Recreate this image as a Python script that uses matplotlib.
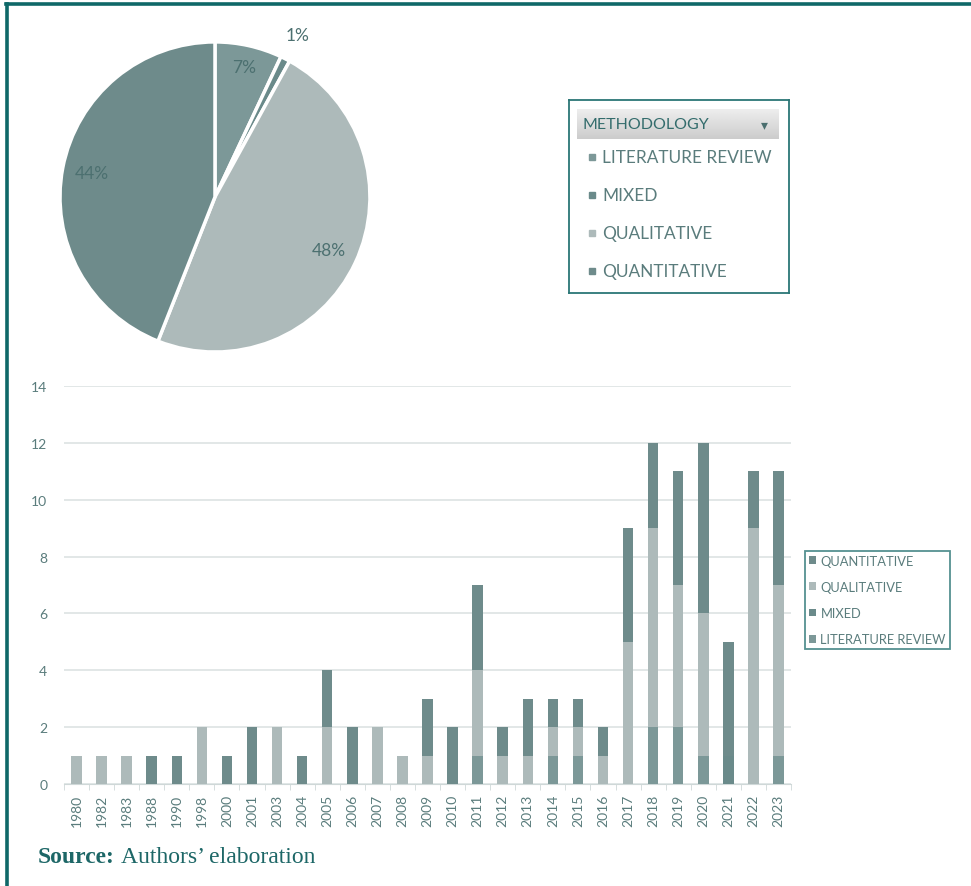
import numpy as np
import matplotlib
matplotlib.use("Agg")
import matplotlib.pyplot as plt
from matplotlib.patches import Rectangle
from matplotlib.lines import Line2D

plt.rcParams['font.family'] = ['Lato', 'DejaVu Sans']

# ---- data ----
years = ['1980', '1982', '1983', '1988', '1990', '1998', '2000', '2001', '2003', '2004',
         '2005', '2006', '2007', '2008', '2009', '2010', '2011', '2012', '2013', '2014',
         '2015', '2016', '2017', '2018', '2019', '2020', '2021', '2022', '2023']
lit_review = [0, 0, 0, 0, 0, 0, 0, 0, 0, 0, 0, 0, 0, 0, 0, 0, 1, 0, 0, 1, 1, 0, 0, 2, 2, 1, 0, 0, 1]
mixed      = [0, 0, 0, 0, 0, 0, 0, 0, 0, 0, 0, 0, 0, 0, 0, 0, 0, 0, 0, 0, 0, 0, 0, 0, 0, 0, 1, 0, 0]
qualitative = [1, 1, 1, 0, 0, 2, 0, 0, 2, 0, 2, 0, 2, 1, 1, 0, 3, 1, 1, 1, 1, 1, 5, 7, 5, 5, 0, 9, 6]
quantitative = [0, 0, 0, 1, 1, 0, 1, 2, 0, 1, 2, 2, 0, 0, 2, 2, 3, 1, 2, 1, 1, 1, 4, 3, 4, 6, 4, 2, 4]

pie_labels = ['LITERATURE REVIEW', 'MIXED', 'QUALITATIVE', 'QUANTITATIVE']
pie_share = [7, 1, 48, 44]

c_lit = '#7c9898'
c_mix = '#6a8a8a'
c_qual = '#adbaba'
c_quant = '#6e8b8b'
colors = [c_lit, c_mix, c_qual, c_quant]
teal = '#0f6868'
txt = '#5a7c7c'

fig = plt.figure(figsize=(9.71, 8.87), dpi=100)

# frame lines (top & left)
fig.add_artist(Line2D([0.0065, 1.0], [0.9944, 0.9944], color=teal, lw=2.6, transform=fig.transFigure))
fig.add_artist(Line2D([0.0075, 0.0075], [0.0, 0.9944], color=teal, lw=2.6, transform=fig.transFigure))

# ---- pie ----
axp = fig.add_axes([0.2214 - 0.1596, 0.7768 - 0.1748, 0.3192, 0.3496])
wedges, texts, autotexts = axp.pie(pie_share, colors=colors, startangle=90, counterclock=False,
                                   autopct='%d%%', pctdistance=0.81,
                                   wedgeprops=dict(edgecolor='white', linewidth=2.5),
                                   textprops=dict(color='#4c7070', fontsize=12.5))
# small slice label outside
ang = np.deg2rad(90 - (7 + 0.5) * 3.6)
autotexts[1].set_position((1.17 * np.cos(ang), 1.17 * np.sin(ang)))
ang7 = np.deg2rad(90 - 3.5 * 3.6)
autotexts[0].set_position((0.86 * np.cos(ang7), 0.86 * np.sin(ang7)))
axp.set_aspect('auto')
axp.set_xlim(-1, 1)
axp.set_ylim(-1, 1)

# ---- pie legend panel ----
axl = fig.add_axes([569 / 971, 1 - 294 / 887, 220 / 971, 193 / 887])
axl.set_xticks([])
axl.set_yticks([])
for s in axl.spines.values():
    s.set_color('#2b7676')
    s.set_linewidth(1.3)
grad = np.linspace(0.93, 0.80, 50).reshape(-1, 1)
axl.imshow(grad, cmap='gray', vmin=0, vmax=1, extent=[8, 209, 39, 9], aspect='auto')
axl.text(13, 24, 'METHODOLOGY', color='#336c6c', fontsize=11.5, va='center', ha='left')
axl.text(195, 24, '▾', color='#4a6e6e', fontsize=10, va='center', ha='center', family='DejaVu Sans')
for i, (lab, col) in enumerate(zip(pie_labels, colors)):
    y = 57 + i * 38
    axl.add_patch(Rectangle((20, y - 3), 6, 6, color=col))
    axl.text(33, y, lab, color=txt, fontsize=12.4, va='center', ha='left')
axl.set_xlim(0, 220)
axl.set_ylim(193, 0)

# ---- stacked bars ----
ax = fig.add_axes([64 / 971, 1 - 785 / 887, 727 / 971, 398 / 887])
x = np.arange(len(years))
w = 0.42
b1 = ax.bar(x, lit_review, w, color=c_lit, label='LITERATURE REVIEW', zorder=3)
bottom = np.array(lit_review)
b2 = ax.bar(x, mixed, w, bottom=bottom, color=c_mix, label='MIXED', zorder=3)
bottom = bottom + np.array(mixed)
b3 = ax.bar(x, qualitative, w, bottom=bottom, color=c_qual, label='QUALITATIVE', zorder=3)
bottom = bottom + np.array(qualitative)
b4 = ax.bar(x, quantitative, w, bottom=bottom, color=c_quant, label='QUANTITATIVE', zorder=3)

ax.set_xlim(-0.5, len(years) - 0.5)
ax.set_ylim(0, 14)
ax.set_yticks(range(0, 15, 2))
ax.yaxis.grid(True, color='#dde3e3', lw=1.2, zorder=0)
ax.set_xticks(x)
ax.set_xticklabels(years, rotation=90, fontsize=10, color=txt)
ax.set_xticks(np.arange(-0.5, len(years), 1), minor=True)
ax.tick_params(axis='x', which='major', length=0, pad=7)
ax.tick_params(axis='x', which='minor', length=4, color='#cfd8d8')
ax.tick_params(axis='y', length=0, labelsize=10, labelcolor=txt, pad=12)
for k in ['top', 'right', 'left']:
    ax.spines[k].set_visible(False)
ax.spines['bottom'].set_color('#cfd8d8')

leg = ax.legend(handles=[b4, b3, b2, b1], loc='center left',
                bbox_to_anchor=(805 / 971, 1 - 601 / 887), bbox_transform=fig.transFigure,
                fontsize=9.3, labelcolor=txt, handlelength=0.55, handleheight=0.55,
                handletextpad=0.35, labelspacing=1.1, borderpad=0.3, borderaxespad=0,
                fancybox=False, frameon=True)
leg.get_frame().set_edgecolor('#2b7676')
leg.get_frame().set_linewidth(1.3)

# ---- source ----
fig.text(38 / 971, 1 - 858 / 887, 'Source:', fontsize=17, fontweight='bold', color='#1d6767',
         family='Liberation Serif', va='center')
fig.text(121 / 971, 1 - 858 / 887, 'Authors\u2019 elaboration', fontsize=17, color='#1d6767',
         family='Liberation Serif', va='center')

fig.savefig('out.png', dpi=100, facecolor='white')
